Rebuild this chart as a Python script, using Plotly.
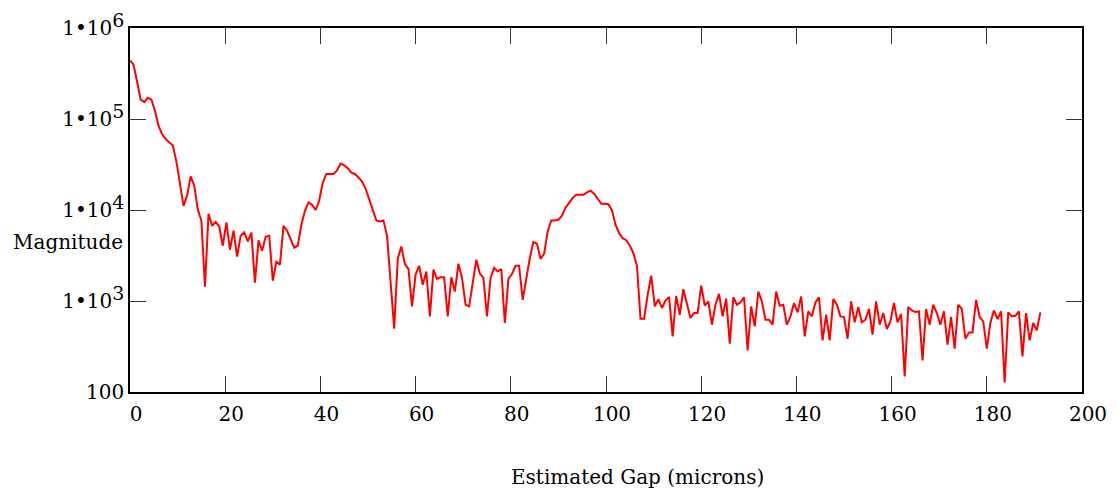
import plotly.graph_objects as go

# Estimated gap (microns): 256 samples, 0.75 micron apart
gap_step = 0.75
magnitude = [
    440000, 395000, 257000, 163000, 153000, 171000, 163000, 123000, 84000, 68000,
    60000, 55000, 51000, 34000, 20500, 11100, 14400, 23400, 18500, 10100,
    7600, 1440, 9100, 6700, 7400, 6550, 4050, 7300, 3660, 5930,
    3070, 5220, 5680, 4520, 5640, 1590, 4630, 3570, 5090, 5220,
    1670, 2700, 2510, 6700, 5930, 4720, 3850, 4050, 6890, 9800,
    12100, 11400, 10000, 12700, 20000, 24900, 24900, 24900, 27200, 32300,
    31000, 28800, 25700, 24900, 22800, 20500, 17100, 13200, 9660, 7690,
    7500, 7690, 5220, 1590, 497, 2920, 3980, 2550, 2250, 873,
    1950, 2440, 1510, 2110, 678, 2210, 1750, 1820, 1820, 678,
    1820, 1270, 2570, 1790, 910, 873, 1580, 2840, 2000, 1790,
    678, 1790, 2310, 2110, 2250, 573, 1750, 1980, 2440, 2440,
    1030, 1790, 2970, 4450, 4270, 2900, 3310, 5820, 7690, 7690,
    7820, 8650, 10600, 12000, 13600, 14700, 14700, 14700, 15600, 16300,
    15100, 13100, 11700, 11700, 11600, 9950, 6890, 5560, 4900, 4660,
    4080, 3350, 2440, 638, 638, 1170, 1900, 873, 1050, 838,
    1010, 1110, 408, 1140, 706, 1350, 910, 650, 738, 738,
    1480, 888, 990, 549, 910, 1200, 678, 1060, 340, 1100,
    910, 966, 1100, 286, 873, 526, 1270, 990, 623, 623,
    549, 1270, 888, 910, 549, 678, 950, 750, 1120, 408,
    769, 678, 966, 1100, 369, 706, 369, 1050, 910, 678,
    667, 385, 990, 582, 859, 582, 623, 817, 426, 990,
    549, 738, 492, 597, 950, 582, 719, 148, 859, 788,
    757, 769, 222, 817, 549, 910, 738, 549, 769, 331,
    667, 299, 910, 817, 385, 452, 452, 1030, 667, 597,
    299, 573, 788, 634, 769, 127, 750, 678, 689, 769,
    246, 738, 369, 573, 475, 750,
]
gap = [i * gap_step for i in range(len(magnitude))]

y_tickvals = [100, 1e3, 1e4, 1e5, 1e6]
y_exponents = ["", "3", "4", "5", "6"]
x_tickvals = [0, 20, 40, 60, 80, 100, 120, 140, 160, 180, 200]

y_ticktext = []
for v, e in zip(y_tickvals, y_exponents):
    if e:
        y_ticktext.append(f"1\u202210<sup><span style='font-size:19px'>{e}</span></sup>")
    else:
        y_ticktext.append("100")

font_family = "DejaVu Serif"

fig = go.Figure(go.Scatter(
    x=gap, y=magnitude, mode="lines",
    line={"color": "#ff0000", "width": 2},
))

# page body has an 8px margin, so the figure is shrunk by that much
fig.update_layout(
    width=1109, height=482,
    margin={"l": 122, "r": 35, "t": 20, "b": 98, "autoexpand": False},
    paper_bgcolor="white", plot_bgcolor="white",
    showlegend=False,
    font={"family": font_family, "size": 20, "color": "black"},
    xaxis={
        "range": [0, 200], "tickvals": x_tickvals, "automargin": False,
        "ticks": "inside", "ticklen": 16, "tickcolor": "#333",
        "showline": True, "linecolor": "black", "linewidth": 1.5, "mirror": "ticks",
        "showgrid": False, "zeroline": False,
        "ticklabelshift": 6, "ticklabelstandoff": 3,
    },
    yaxis={
        "type": "log", "range": [2, 6], "automargin": False,
        "tickvals": y_tickvals, "ticktext": y_ticktext,
        "ticks": "inside", "ticklen": 16, "tickcolor": "#333",
        "showline": True, "linecolor": "black", "linewidth": 1.5, "mirror": "ticks",
        "showgrid": False, "zeroline": False,
    },
    annotations=[
        {"text": "Estimated Gap (microns)", "xref": "paper", "yref": "paper",
         "x": 0.5326, "y": -0.233, "xanchor": "center", "yanchor": "middle",
         "showarrow": False, "font": {"size": 20}},
        {"text": "Magnitude", "xref": "paper", "yref": "paper",
         "x": -0.125, "y": 0.412, "xanchor": "left", "yanchor": "middle",
         "showarrow": False, "font": {"size": 20}},
    ],
)

fig.write_html("out.html")
